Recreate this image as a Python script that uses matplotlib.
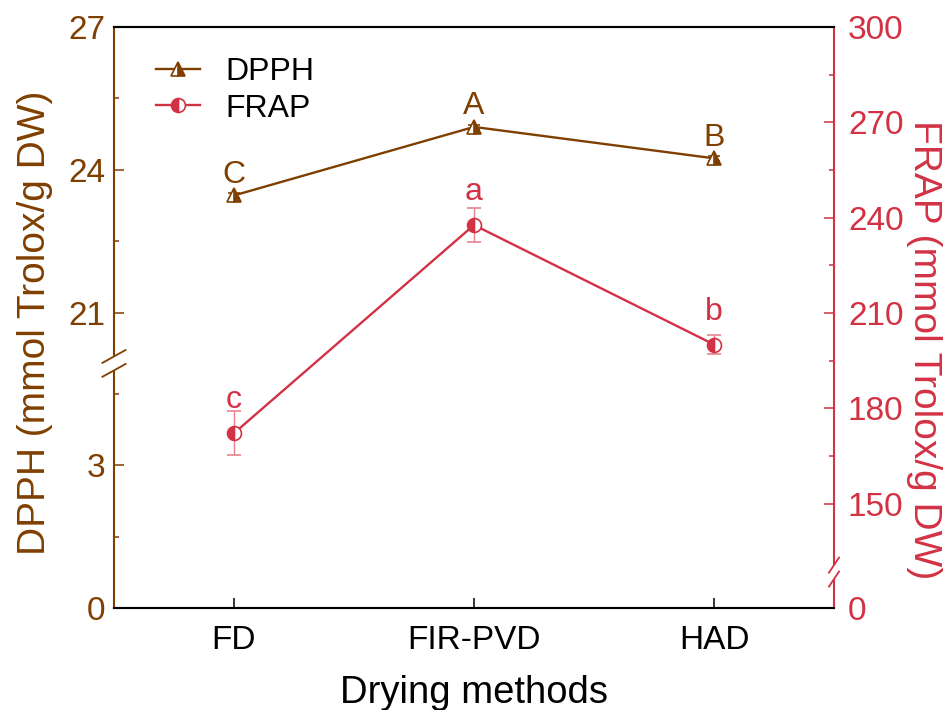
import numpy as np
import matplotlib.pyplot as plt
from matplotlib.lines import Line2D

plt.rcParams['font.family'] = ['Liberation Sans', 'DejaVu Sans']

# data
methods = ["FD", "FIR-PVD", "HAD"]
dpph = [23.46, 24.90, 24.24]
dpph_err = [0.05, 0.05, 0.05]
dpph_letters = ["C", "A", "B"]
frap = [172.2, 237.7, 200.1]
frap_err = [6.9, 5.2, 3.0]
frap_letters = ["c", "a", "b"]

left_ticks = [0, 3, 21, 24, 27]
left_minor = [1.5, 4.5, 22.5, 25.5]
right_ticks = [0, 150, 180, 210, 240, 270, 300]
right_minor = [165, 195, 225, 255, 285]

BROWN = "#7F3F00"
RED = "#D23244"

# broken axes: shift the upper part down so that the gap is cut out
DPPH_SHIFT = 14.79   # values >= 21 are drawn at v - shift
FRAP_SHIFT = 117.2   # values >= 150 are drawn at v - shift


def dpos(v):
    v = np.asarray(v, dtype=float)
    return np.where(v >= 10, v - DPPH_SHIFT, v)


def fpos(v):
    v = np.asarray(v, dtype=float)
    return np.where(v >= 100, v - FRAP_SHIFT, v)


fig = plt.figure(figsize=(9.5, 7.1), dpi=100)
ax = fig.add_axes([114 / 950, 1 - 608 / 710, 720 / 950, 581 / 710])
ax2 = ax.twinx()

x = np.arange(len(methods))

# DPPH
ax.errorbar(x, dpos(dpph), yerr=dpph_err, color=BROWN, lw=1.7, marker="^",
            ms=10, fillstyle="right", mfc=BROWN, mfcalt="white", mec=BROWN,
            mew=1.2, ecolor=BROWN, elinewidth=1, capsize=4, zorder=3)
for xi, v, t in zip(x, dpos(dpph), dpph_letters):
    ax.annotate(t, (xi, v), xytext=(0, 9), textcoords="offset points",
                ha="center", va="baseline", fontsize=23, color=BROWN)

# FRAP
ax2.errorbar(x, fpos(frap), yerr=frap_err, color=RED, lw=1.7, marker="o",
             ms=10, fillstyle="left", mfc=RED, mfcalt="white", mec=RED,
             mew=1.2, ecolor="#E8838F", elinewidth=1, capsize=5, capthick=1,
             zorder=3)
for xi, v, t in zip(x, fpos(frap), frap_letters):
    ax2.annotate(t, (xi, v), xytext=(0, 18), textcoords="offset points",
                 ha="center", va="baseline", fontsize=23, color=RED)

ax.set_xlim(-0.5, 2.5)
ax.set_ylim(0, 27 - DPPH_SHIFT)
ax2.set_ylim(0, 300 - FRAP_SHIFT)

ax.set_xticks(x)
ax.set_xticklabels(methods, fontsize=24)
ax.set_yticks(dpos(left_ticks))
ax.set_yticklabels([str(t) for t in left_ticks], fontsize=24, color=BROWN)
ax.set_yticks(dpos(left_minor), minor=True)
ax2.set_yticks(fpos(right_ticks))
ax2.set_yticklabels([str(t) for t in right_ticks], fontsize=24, color=RED)
ax2.set_yticks(fpos(right_minor), minor=True)

ax.tick_params(axis="x", direction="in", length=7, width=1.1, pad=12)
ax.tick_params(axis="y", which="major", direction="in", length=7, width=1.1,
               color=BROWN, pad=6)
ax.tick_params(axis="y", which="minor", direction="in", length=3.5, width=1.1,
               color=BROWN)
ax2.tick_params(axis="y", which="major", direction="in", length=7, width=1.1,
                color=RED, pad=10)
ax2.tick_params(axis="y", which="minor", direction="in", length=3.5, width=1.1,
                color=RED)

for a in (ax, ax2):
    a.spines["left"].set_visible(False)
    a.spines["right"].set_visible(False)
    a.spines["top"].set_linewidth(1.5)
    a.spines["bottom"].set_linewidth(1.5)

# spines with a break
ymax_l = 27 - DPPH_SHIFT
ymax_r = 300 - FRAP_SHIFT
lb = 5.14 / ymax_l       # left break centre (axes fraction)
rb = 11.3 / ymax_r       # right break centre
g = 0.012
ax.plot([0, 0], [0, lb - g], transform=ax.transAxes, color=BROWN, lw=1.5,
        clip_on=False, solid_capstyle="butt")
ax.plot([0, 0], [lb + g, 1], transform=ax.transAxes, color=BROWN, lw=1.5,
        clip_on=False, solid_capstyle="butt")
ax2.plot([1, 1], [0, rb - g], transform=ax2.transAxes, color=RED, lw=1.5,
         clip_on=False, solid_capstyle="butt")
ax2.plot([1, 1], [rb + g, 1], transform=ax2.transAxes, color=RED, lw=1.5,
         clip_on=False, solid_capstyle="butt")
for d in (-g, g):
    ax.plot([-0.016, 0.016], [lb + d - 0.011, lb + d + 0.011],
            transform=ax.transAxes, color=BROWN, lw=1.3, clip_on=False)
    ax2.plot([1 - 0.007, 1 + 0.007], [rb + d - 0.013, rb + d + 0.013],
             transform=ax2.transAxes, color=RED, lw=1.3, clip_on=False)

ax.set_xlabel("Drying methods", fontsize=27.5, labelpad=14)
ax.set_ylabel("DPPH (mmol Trolox/g DW)", fontsize=28, color=BROWN,
              labelpad=11)
ax.yaxis.label.set_y(0.49)
ax2.set_ylabel("FRAP (mmol Trolox/g DW)", fontsize=28, color=RED,
               rotation=270, labelpad=28)
ax2.yaxis.label.set_y(0.445)

handles = [
    Line2D([], [], color=BROWN, lw=1.7, marker="^", ms=10, fillstyle="right",
           mfc=BROWN, mfcalt="white", mec=BROWN, mew=1.2),
    Line2D([], [], color=RED, lw=1.7, marker="o", ms=10, fillstyle="left",
           mfc=RED, mfcalt="white", mec=RED, mew=1.2),
]
ax2.legend(handles, ["DPPH", "FRAP"], loc="upper left", frameon=False,
           fontsize=23, handlelength=1.4, handletextpad=0.8,
           labelspacing=0.2, borderaxespad=0, bbox_to_anchor=(0.04, 0.97))

fig.savefig("out.png", dpi=100)
